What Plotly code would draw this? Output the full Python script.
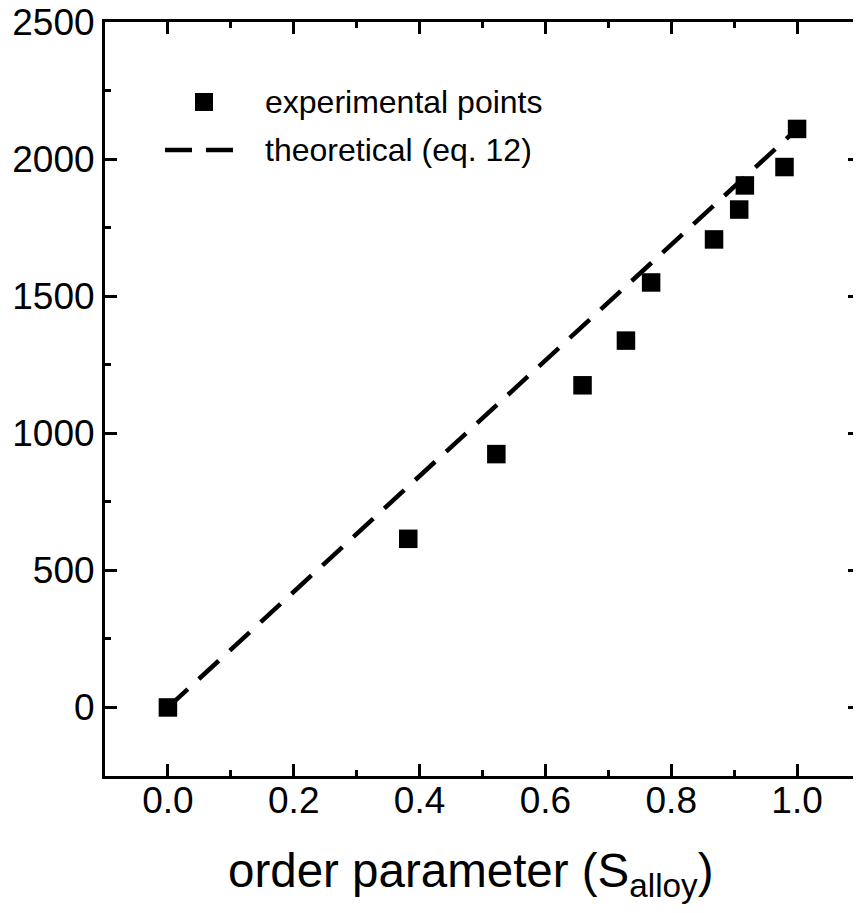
import plotly.graph_objects as go

# Data
s_exp = [0.0, 0.382, 0.522, 0.659, 0.728, 0.768, 0.868, 0.908, 0.917, 0.980, 1.000]
t_exp = [0, 615, 924, 1175, 1338, 1550, 1707, 1816, 1904, 1971, 2110]
s_theory = [0.0, 1.0]
t_theory = [0, 2110]

x_tickvals = [0.0, 0.2, 0.4, 0.6, 0.8, 1.0]
x_ticktext = ["0.0", "0.2", "0.4", "0.6", "0.8", "1.0"]
y_tickvals = [0, 500, 1000, 1500, 2000, 2500]
y_ticktext = ["0", "500", "1000", "1500", "2000", "2500"]

legend_labels = ["experimental points", "theoretical (eq. 12)"]
x_title = "order parameter (S<sub>alloy</sub>)"

FONT = "Liberation Sans, Arial, Helvetica, sans-serif"
OFF = 8  # page body margin
W, H = 861 - OFF, 913 - OFF
ML, MR, MT, MB = 105 - OFF, 1, 22 - OFF, 137
PW = W - ML - MR
PH = H - MT - MB


def px(xp):
    return (xp - OFF - ML) / PW


def py(yp):
    return (H + OFF - MB - yp) / PH


fig = go.Figure()
fig.add_trace(go.Scatter(
    x=s_theory, y=t_theory, mode="lines",
    line=dict(color="black", width=4.5, dash="27px,15px"),
    showlegend=False, name=legend_labels[1]))
fig.add_trace(go.Scatter(
    x=s_exp, y=t_exp, mode="markers",
    marker=dict(symbol="square", size=18.5, color="black", line=dict(width=0)),
    showlegend=False, name=legend_labels[0]))

axis_common = dict(
    showline=True, linecolor="black", linewidth=3, mirror="ticks",
    ticks="inside", ticklen=12, tickwidth=2.5, tickcolor="black",
    showgrid=False, zeroline=False, ticklabeloverflow="allow",
    automargin=False,
    tickfont=dict(family=FONT, size=37, color="black"),
)

fig.update_xaxes(
    range=[-0.1, 1.1], tickvals=x_tickvals, ticktext=x_ticktext,
    ticklabelstandoff=-10,
    minor=dict(ticks="inside", ticklen=6, tickwidth=2.5, dtick=0.1, tick0=0, tickcolor="black"),
    **axis_common)
fig.update_yaxes(
    range=[-250, 2500], tickvals=y_tickvals, ticktext=y_ticktext,
    minor=dict(ticks="inside", ticklen=6, tickwidth=2.5, dtick=250, tick0=0, tickcolor="black"),
    **axis_common)

# manual legend
shapes = [
    dict(type="rect", xref="paper", yref="paper",
         x0=px(195), x1=px(213), y0=py(111), y1=py(93),
         fillcolor="black", line=dict(width=0)),
    dict(type="line", xref="paper", yref="paper",
         x0=px(165), x1=px(233), y0=py(150), y1=py(150),
         line=dict(color="black", width=4.5, dash="27px,14px")),
]
annotations = [
    dict(text=legend_labels[0], xref="paper", yref="paper", x=px(263), y=py(102),
         xanchor="left", yanchor="middle", showarrow=False,
         font=dict(family=FONT, size=32, color="black")),
    dict(text=legend_labels[1], xref="paper", yref="paper", x=px(263), y=py(150),
         xanchor="left", yanchor="middle", showarrow=False,
         font=dict(family=FONT, size=32, color="black")),
    dict(text=x_title, xref="paper", yref="paper", x=px(471), y=py(874),
         xanchor="center", yanchor="middle", showarrow=False,
         font=dict(family=FONT, size=47.5, color="black")),
]

fig.update_layout(
    width=W, height=H,
    margin=dict(l=ML, r=MR, t=MT, b=MB, pad=0),
    paper_bgcolor="white", plot_bgcolor="white",
    shapes=shapes, annotations=annotations,
    font=dict(family=FONT, color="black"),
)

fig.write_html("out.html")
